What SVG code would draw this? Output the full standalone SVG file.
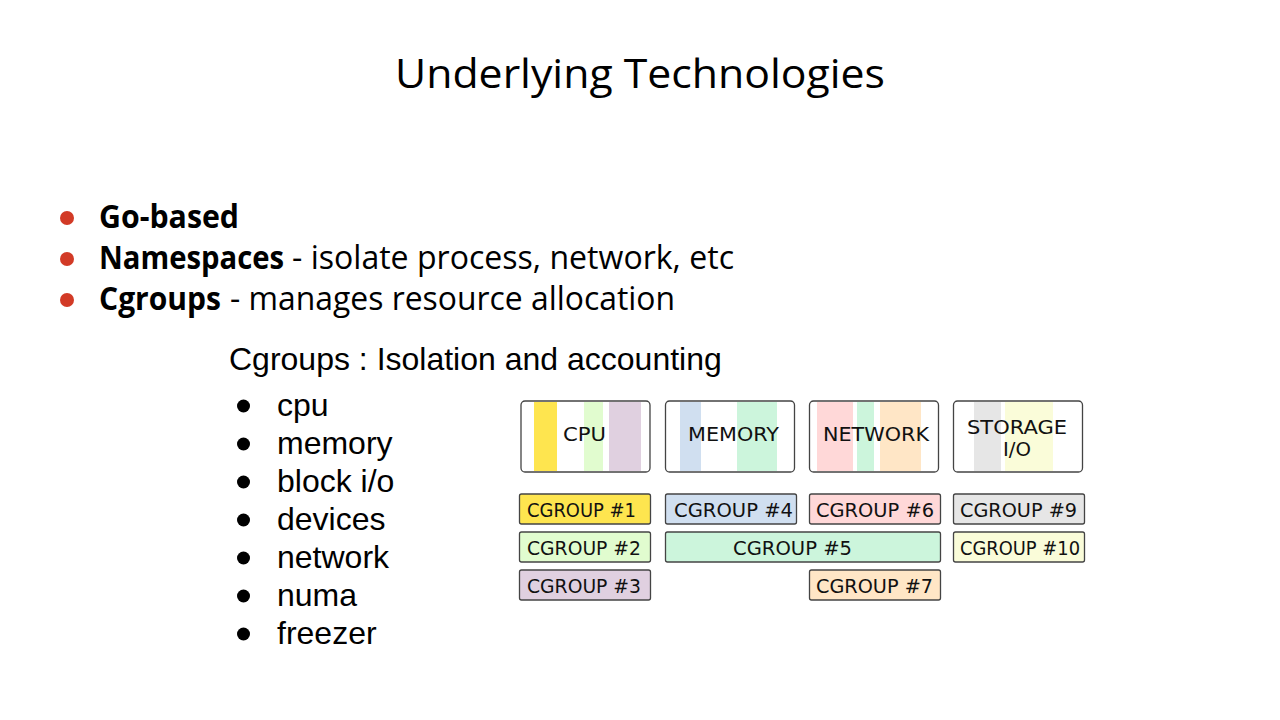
<svg xmlns="http://www.w3.org/2000/svg" width="1280" height="720" viewBox="0 0 1280 720">
<style>
.title{font-family:"Open Sans","Noto Sans",sans-serif;font-size:40px;fill:#000}
.main{font-family:"Open Sans","Noto Sans",sans-serif;font-size:32px;fill:#000}
.b{font-weight:bold}
.sub{font-family:"Liberation Sans",Arial,sans-serif;font-size:32px;fill:#000}
.res{fill:#fff;stroke:#444;stroke-width:1.3}
.cg{stroke:#444;stroke-width:1.3}
.lbl{font-family:"DejaVu Sans","Liberation Sans",sans-serif;font-size:19px;fill:#111}
</style>
<rect width="1280" height="720" fill="#fff"/>
<text class="title" x="395" y="88" textLength="490" lengthAdjust="spacingAndGlyphs">Underlying Technologies</text>

<g id="main-bullets">
<circle cx="67" cy="218" r="7" fill="#d23a26"/>
<circle cx="67" cy="259" r="7" fill="#d23a26"/>
<circle cx="67" cy="300" r="7" fill="#d23a26"/>
<text class="main b" x="99" y="228" textLength="140" lengthAdjust="spacingAndGlyphs">Go-based</text>
<text class="main b" x="99" y="269" textLength="185" lengthAdjust="spacingAndGlyphs">Namespaces</text>
<text class="main" x="292" y="269" textLength="442" lengthAdjust="spacingAndGlyphs">- isolate process, network, etc</text>
<text class="main b" x="99" y="310" textLength="122" lengthAdjust="spacingAndGlyphs">Cgroups</text>
<text class="main" x="230" y="310" textLength="445" lengthAdjust="spacingAndGlyphs">- manages resource allocation</text>
</g>

<g id="cgroups-list">
<text class="sub" x="229" y="370">Cgroups : Isolation and accounting</text>
<g fill="#000">
<circle cx="243.5" cy="406" r="6.5"/>
<circle cx="243.5" cy="444" r="6.5"/>
<circle cx="243.5" cy="482" r="6.5"/>
<circle cx="243.5" cy="520" r="6.5"/>
<circle cx="243.5" cy="558" r="6.5"/>
<circle cx="243.5" cy="596" r="6.5"/>
<circle cx="243.5" cy="634" r="6.5"/>
</g>
<text class="sub" x="277" y="416">cpu</text>
<text class="sub" x="277" y="454">memory</text>
<text class="sub" x="277" y="492">block i/o</text>
<text class="sub" x="277" y="530">devices</text>
<text class="sub" x="277" y="568">network</text>
<text class="sub" x="277" y="606">numa</text>
<text class="sub" x="277" y="644">freezer</text>
</g>

<g id="res-cpu">
<rect class="res" x="521" y="401" width="129" height="71" rx="4"/>
<rect x="534" y="402" width="23" height="69" fill="#fee54f"/>
<rect x="584" y="402" width="19" height="69" fill="#e1fccf"/>
<rect x="609" y="402" width="32" height="69" fill="#e0d0e0"/>
<text class="lbl" x="563" y="441" textLength="43" lengthAdjust="spacingAndGlyphs">CPU</text>
</g>
<g id="res-memory">
<rect class="res" x="665.5" y="401" width="129" height="71" rx="4"/>
<rect x="680" y="402" width="21" height="69" fill="#d0dff0"/>
<rect x="737" y="402" width="40" height="69" fill="#ccf5dc"/>
<text class="lbl" x="688" y="441" textLength="91" lengthAdjust="spacingAndGlyphs">MEMORY</text>
</g>
<g id="res-network">
<rect class="res" x="809.5" y="401" width="129" height="71" rx="4"/>
<rect x="817" y="402" width="36" height="69" fill="#ffd8d8"/>
<rect x="857" y="402" width="17" height="69" fill="#ccf5dc"/>
<rect x="880" y="402" width="41" height="69" fill="#ffe6c6"/>
<text class="lbl" x="823" y="441" textLength="106" lengthAdjust="spacingAndGlyphs">NETWORK</text>
</g>
<g id="res-storage">
<rect class="res" x="953.5" y="401" width="129" height="71" rx="4"/>
<rect x="974" y="402" width="27" height="69" fill="#e6e6e6"/>
<rect x="1005" y="402" width="48" height="69" fill="#fafcd9"/>
<text class="lbl" x="967" y="434" textLength="100" lengthAdjust="spacingAndGlyphs">STORAGE</text>
<text class="lbl" x="1003" y="456" textLength="28" lengthAdjust="spacingAndGlyphs">I/O</text>
</g>

<g id="cgroup-1"><rect class="cg" x="519.5" y="494" width="131" height="30" rx="2" fill="#fee54f"/><text class="lbl" x="527" y="517" textLength="109" lengthAdjust="spacingAndGlyphs">CGROUP #1</text></g>
<g id="cgroup-2"><rect class="cg" x="519.5" y="532" width="131" height="30" rx="2" fill="#e1fccf"/><text class="lbl" x="527" y="555" textLength="114" lengthAdjust="spacingAndGlyphs">CGROUP #2</text></g>
<g id="cgroup-3"><rect class="cg" x="519.5" y="570" width="131" height="30" rx="2" fill="#e0d0e0"/><text class="lbl" x="527" y="593" textLength="114" lengthAdjust="spacingAndGlyphs">CGROUP #3</text></g>
<g id="cgroup-4"><rect class="cg" x="665.5" y="494" width="131" height="30" rx="2" fill="#d0dff0"/><text class="lbl" x="674" y="517" textLength="119" lengthAdjust="spacingAndGlyphs">CGROUP #4</text></g>
<g id="cgroup-5"><rect class="cg" x="665.5" y="532" width="275" height="30" rx="2" fill="#ccf5dc"/><text class="lbl" x="733" y="555" textLength="119" lengthAdjust="spacingAndGlyphs">CGROUP #5</text></g>
<g id="cgroup-6"><rect class="cg" x="809.5" y="494" width="131" height="30" rx="2" fill="#ffd8d8"/><text class="lbl" x="816" y="517" textLength="118" lengthAdjust="spacingAndGlyphs">CGROUP #6</text></g>
<g id="cgroup-7"><rect class="cg" x="809.5" y="570" width="131" height="30" rx="2" fill="#ffe6c6"/><text class="lbl" x="816" y="593" textLength="117" lengthAdjust="spacingAndGlyphs">CGROUP #7</text></g>
<g id="cgroup-9"><rect class="cg" x="953.5" y="494" width="131" height="30" rx="2" fill="#e6e6e6"/><text class="lbl" x="960" y="517" textLength="117" lengthAdjust="spacingAndGlyphs">CGROUP #9</text></g>
<g id="cgroup-10"><rect class="cg" x="953.5" y="532" width="131" height="30" rx="2" fill="#fafcd9"/><text class="lbl" x="960" y="555" textLength="120" lengthAdjust="spacingAndGlyphs">CGROUP #10</text></g>
<g id="connectors"></g>
</svg>
